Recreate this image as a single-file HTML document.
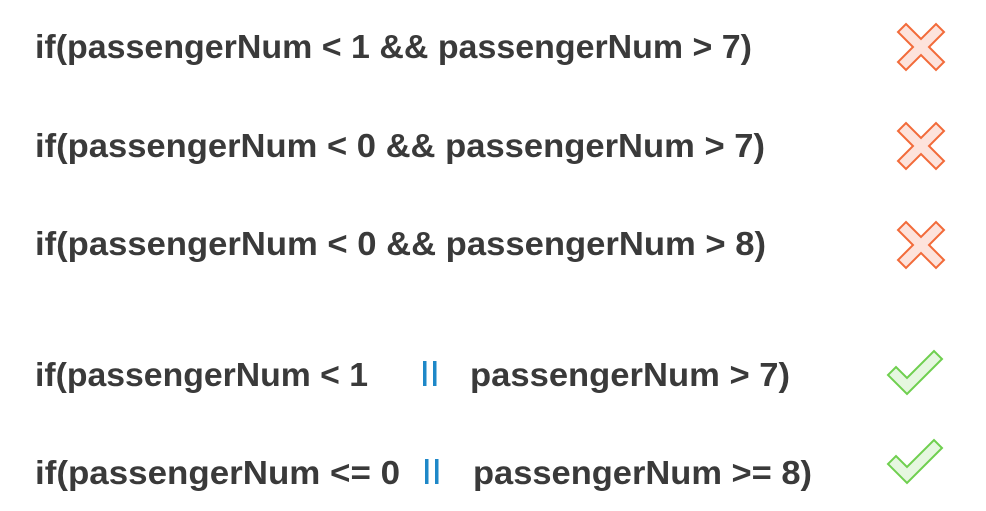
<!DOCTYPE html>
<html><head><style>
html,body{margin:0;padding:0;background:#fff;}
svg{display:block;}
text{font-family:"Liberation Sans",sans-serif;font-weight:bold;font-size:33px;fill:#3a3a3a;}
.b{fill:#1e88c8;}
</style></head><body>
<svg width="986" height="511" viewBox="0 0 986 511">
<text x="35" y="58" textLength="717" lengthAdjust="spacingAndGlyphs">if(passengerNum &lt; 1 &amp;&amp; passengerNum &gt; 7)</text>
<text x="35" y="157" textLength="730" lengthAdjust="spacingAndGlyphs">if(passengerNum &lt; 0 &amp;&amp; passengerNum &gt; 7)</text>
<text x="35" y="255" textLength="731" lengthAdjust="spacingAndGlyphs">if(passengerNum &lt; 0 &amp;&amp; passengerNum &gt; 8)</text>
<text x="35" y="386" textLength="333" lengthAdjust="spacingAndGlyphs">if(passengerNum &lt; 1</text>
<rect x="423" y="361" width="3.5" height="25" class="b"/>
<rect x="433" y="361" width="3.5" height="25" class="b"/>
<text x="470" y="386" textLength="320" lengthAdjust="spacingAndGlyphs">passengerNum &gt; 7)</text>
<text x="35" y="484" textLength="365" lengthAdjust="spacingAndGlyphs">if(passengerNum &lt;= 0</text>
<rect x="425" y="459" width="3.5" height="25" class="b"/>
<rect x="435" y="459" width="3.5" height="25" class="b"/>
<text x="473" y="484" textLength="339" lengthAdjust="spacingAndGlyphs">passengerNum &gt;= 8)</text>
<g fill="#fde3dc" stroke="#f26b3a" stroke-width="2" stroke-linejoin="miter">
<path d="M906,24 L921,39 L936,24 L944,32 L929,47 L944,62 L936,70 L921,55 L906,70 L898,62 L913,47 L898,32 Z"/>
<path d="M906,24 L921,39 L936,24 L944,32 L929,47 L944,62 L936,70 L921,55 L906,70 L898,62 L913,47 L898,32 Z" transform="translate(0,99)"/>
<path d="M906,24 L921,39 L936,24 L944,32 L929,47 L944,62 L936,70 L921,55 L906,70 L898,62 L913,47 L898,32 Z" transform="translate(0,198)"/>
</g>
<g fill="#e6f7e0" stroke="#6fcf4f" stroke-width="2">
<path d="M888,375 L896,367 L907,378 L934,351 L942,359 L907,394 Z"/>
<path d="M888,375 L896,367 L907,378 L934,351 L942,359 L907,394 Z" transform="translate(0,89)"/>
</g>
</svg>
</body></html>
